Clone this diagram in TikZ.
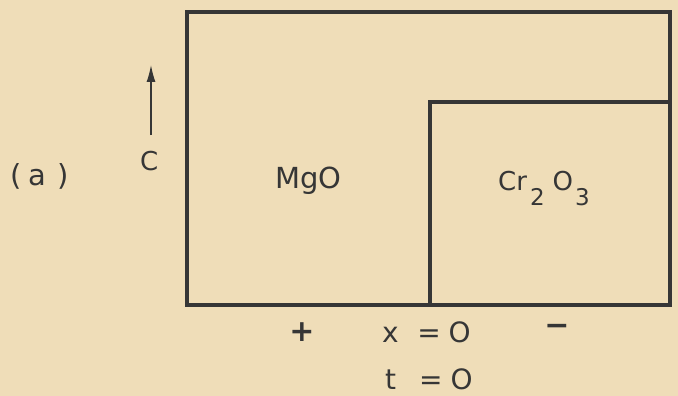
\documentclass[tikz,border=0pt]{standalone}
\usepackage{fontspec}
\setmainfont{DejaVu Sans}
\usetikzlibrary{arrows.meta}
\definecolor{paper}{HTML}{EFDDB8}
\definecolor{ink}{HTML}{363636}
\tikzset{
  box/.style={draw=ink, line width=3.4pt},
  lbl/.style={text=ink, font=\fontsize{28}{32}\selectfont, inner sep=0pt, anchor=base west},
}
\newcommand{\lowsub}[1]{\raisebox{-15pt}{\fontsize{23}{23}\selectfont #1}}
\begin{document}
\begin{tikzpicture}[x=1pt,y=-1pt]
\fill[paper] (0,0) rectangle (678,396);
\useasboundingbox (0,0) rectangle (678,396);
% outer box
\draw[box] (187,12) rectangle (670,305);
% inner box
\draw[box] (430,305) -- (430,102) -- (670,102);
\coordinate (abot) at (151,135);
\coordinate (atop) at (151,65);
\draw[ink, line width=1.3pt, -{Latex[length=17pt,width=9pt]}] (abot) -- (atop);
\node[lbl, font=\fontsize{26}{30}\selectfont] (c) at (140,170) {C};
\node[lbl, font=\fontsize{29}{32}\selectfont] (a) at (10,185) {(\hspace{7pt}a\hspace{11pt})};
\node[lbl, font=\fontsize{29}{32}\selectfont] (mgo) at (275,188) {MgO};
\node[lbl, font=\fontsize{26}{30}\selectfont] (cro) at (498,190) {Cr\hspace{3pt}\lowsub{2}\hspace{8pt}O\hspace{2pt}\lowsub{3}};
\node[lbl, font=\fontsize{30}{30}\selectfont\bfseries, anchor=center] (plus) at (302,332) {+};
\node[lbl, font=\fontsize{30}{30}\selectfont\bfseries, anchor=center] (minus) at (557,330) {−};
\node[lbl] (x0) at (382,342) {x\hspace{18.5pt}=\hspace{8pt}O};
\node[lbl] (t0) at (385,389) {t\hspace{23pt}=\hspace{8pt}O};
\end{tikzpicture}
\end{document}
